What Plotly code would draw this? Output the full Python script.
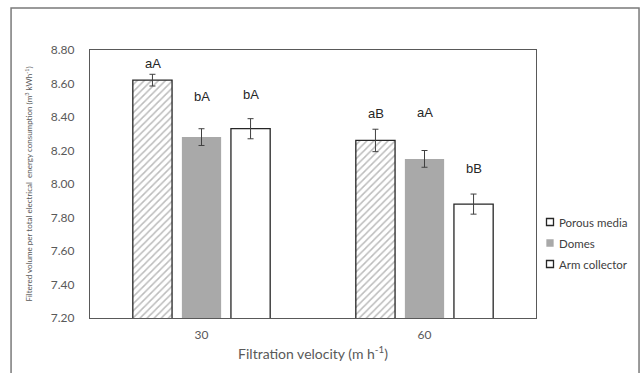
import plotly.graph_objects as go

categories = ["30", "60"]
series_names = ["Porous media", "Domes", "Arm collector"]
porous = [8.62, 8.26]
domes = [8.28, 8.15]
arm = [8.33, 7.88]
porous_err = [0.035, 0.067]
domes_err = [0.05, 0.05]
arm_err = [0.06, 0.06]
porous_lbl = ["aA", "aB"]
domes_lbl = ["bA", "aA"]
arm_lbl = ["bA", "bB"]
y_ticks = [7.20, 7.40, 7.60, 7.80, 8.00, 8.20, 8.40, 8.60, 8.80]

# style: pixel offsets of the significance letters above the error bar tops
lbl_shift = {"Porous media": [11, 16], "Domes": [32, 38], "Arm collector": [24, 26]}

AX = "#595959"
fig = go.Figure()

vals = [porous, domes, arm]
errs = [porous_err, domes_err, arm_err]
lbls = [porous_lbl, domes_lbl, arm_lbl]
styles = [
    dict(color="white", line=dict(color="#262626", width=1.3),
         pattern=dict(shape="/", fgcolor="#7a7a7a", bgcolor="white", size=5, solidity=0.3, fillmode="overlay")),
    dict(color="#a9a9a9", line=dict(color="#a9a9a9", width=0)),
    dict(color="white", line=dict(color="#262626", width=1.3)),
]
for name, v, e, st in zip(series_names, vals, errs, styles):
    fig.add_trace(go.Bar(
        x=categories, y=v, name=name, marker=st, showlegend=False,
        error_y=dict(type="data", array=e, color="#404040", thickness=1, width=3),
    ))

step = 49
for i, (name, v, e, lb) in enumerate(zip(series_names, vals, errs, lbls)):
    for j in range(len(categories)):
        fig.add_annotation(
            x=j, y=v[j] + e[j], text=lb[j], showarrow=False,
            xshift=(i - 1) * step, yshift=lbl_shift[name][j], yanchor="middle",
            font=dict(family="Liberation Sans, Arial", size=13, color="#262626"),
        )

# manual legend (paper coords: plot area spans x 90..536 px, y 50..318 px)
leg_swatch = [
    dict(fill="white", line="#262626", half=3.5),
    dict(fill="#a9a9a9", line="#a9a9a9", half=3),
    dict(fill="white", line="#262626", half=3.5),
]
leg_x = (550 - 90) / 446
leg_text_x = (557 - 90) / 446
for k, (name, sw) in enumerate(zip(series_names, leg_swatch)):
    yy = (318 - (222 + 21 * k)) / 268
    fig.add_shape(type="rect", xref="paper", yref="paper",
                  xsizemode="pixel", ysizemode="pixel", xanchor=leg_x, yanchor=yy,
                  x0=-sw["half"], x1=sw["half"], y0=-sw["half"], y1=sw["half"],
                  line=dict(color=sw["line"], width=1.3), fillcolor=sw["fill"])
    fig.add_annotation(xref="paper", yref="paper", x=leg_text_x, y=yy, text=name,
                       showarrow=False, xanchor="left", yanchor="middle",
                       font=dict(size=11.5, color="#404040"))

# outer chart frame
fig.add_shape(type="rect", xref="paper", yref="paper",
              x0=-0.177, x1=1.231, y0=-0.25, y1=1.157,
              line=dict(color="#7a7a7a", width=1.5), fillcolor="rgba(0,0,0,0)", layer="below")

fig.update_layout(
    width=641, height=373,
    margin=dict(l=90, r=105, t=50, b=55, autoexpand=False),
    plot_bgcolor="white", paper_bgcolor="white",
    barmode="group", bargap=0.34, bargroupgap=0.2, showlegend=False,
    font=dict(family="Lato, Open Sans, sans-serif", color=AX),
    xaxis=dict(type="category", range=[-0.5, 1.5], showline=True, linecolor=AX, linewidth=1.3, mirror=True, ticks="",
               tickfont=dict(size=12, color=AX), ticklabelstandoff=5,
               title=dict(text="Filtration velocity (m h<sup>-1</sup>)", font=dict(size=14, color=AX), standoff=8)),
    yaxis=dict(range=[7.2, 8.8], tickvals=y_ticks, ticktext=[f"{t:.2f}" for t in y_ticks],
               showgrid=False, zeroline=False, showline=True, linecolor=AX, linewidth=1.3, mirror=True,
               ticks="", ticklabelstandoff=12, tickfont=dict(size=12, color=AX),
               title=dict(text="Filtered volume per total electrical  energy consumption (m<sup>3</sup> kWh<sup>-1</sup>)",
                          font=dict(size=8, color=AX), standoff=16)),
)

fig.write_html("out.html")
